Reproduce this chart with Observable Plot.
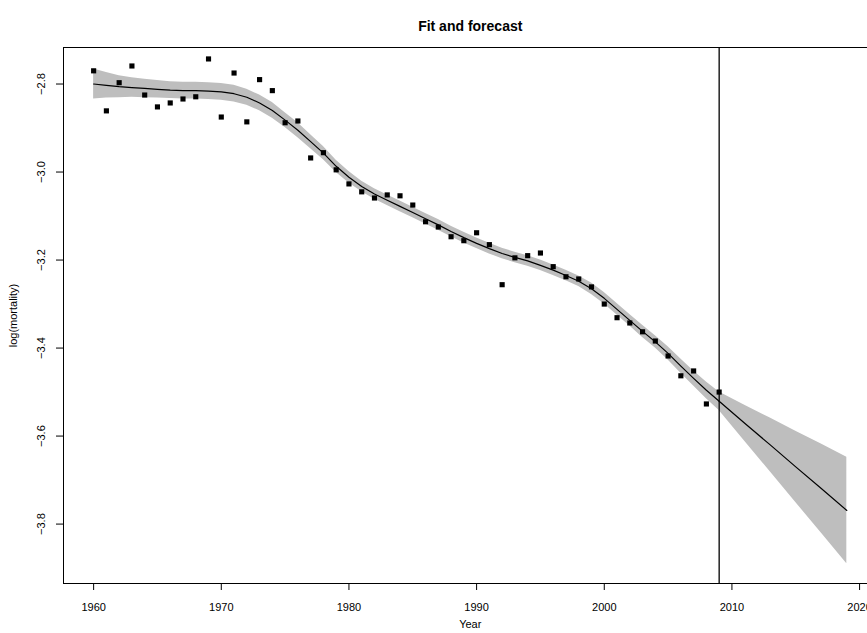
<!DOCTYPE html>
<html><head><meta charset="utf-8">
<script src="https://cdn.jsdelivr.net/npm/d3@7"></script>
<script src="https://cdn.jsdelivr.net/npm/@observablehq/plot@0.6"></script>
<style>html,body{margin:0;padding:0;overflow:hidden;background:#fff}</style>
</head><body><div id="chart"></div>
<script>
const years = [1960,1961,1962,1963,1964,1965,1966,1967,1968,1969,
  1970,1971,1972,1973,1974,1975,1976,1977,1978,1979,
  1980,1981,1982,1983,1984,1985,1986,1987,1988,1989,
  1990,1991,1992,1993,1994,1995,1996,1997,1998,1999,
  2000,2001,2002,2003,2004,2005,2006,2007,2008,2009];
const observed = [-2.770,-2.861,-2.797,-2.759,-2.825,-2.852,-2.843,-2.834,-2.829,-2.743,
  -2.875,-2.775,-2.886,-2.790,-2.815,-2.888,-2.884,-2.968,-2.956,-2.995,
  -3.027,-3.045,-3.059,-3.052,-3.054,-3.075,-3.113,-3.125,-3.147,-3.156,
  -3.138,-3.165,-3.256,-3.195,-3.190,-3.184,-3.215,-3.238,-3.243,-3.261,
  -3.300,-3.331,-3.343,-3.363,-3.384,-3.418,-3.463,-3.452,-3.527,-3.500];
const fitted = [-2.800,-2.803,-2.806,-2.808,-2.810,-2.812,-2.814,-2.815,-2.815,-2.816,
  -2.818,-2.822,-2.830,-2.843,-2.860,-2.882,-2.905,-2.931,-2.957,-2.987,
  -3.012,-3.033,-3.050,-3.064,-3.078,-3.092,-3.106,-3.120,-3.135,-3.149,
  -3.162,-3.174,-3.185,-3.194,-3.202,-3.212,-3.223,-3.235,-3.248,-3.265,
  -3.287,-3.312,-3.337,-3.362,-3.386,-3.412,-3.441,-3.469,-3.496,-3.521];
const fitUpper = [-2.766,-2.774,-2.781,-2.786,-2.789,-2.792,-2.795,-2.796,-2.796,-2.797,
  -2.799,-2.803,-2.812,-2.825,-2.842,-2.865,-2.888,-2.915,-2.942,-2.973,
  -2.999,-3.021,-3.038,-3.052,-3.066,-3.080,-3.094,-3.108,-3.123,-3.137,
  -3.150,-3.162,-3.173,-3.182,-3.190,-3.200,-3.211,-3.223,-3.236,-3.252,
  -3.274,-3.299,-3.324,-3.348,-3.372,-3.397,-3.425,-3.452,-3.477,-3.500];
const fitLower = [-2.834,-2.832,-2.831,-2.830,-2.831,-2.832,-2.833,-2.834,-2.834,-2.835,
  -2.837,-2.841,-2.848,-2.861,-2.878,-2.899,-2.922,-2.947,-2.972,-3.001,
  -3.025,-3.045,-3.062,-3.076,-3.090,-3.104,-3.118,-3.132,-3.147,-3.161,
  -3.174,-3.186,-3.197,-3.206,-3.214,-3.224,-3.235,-3.247,-3.260,-3.278,
  -3.300,-3.325,-3.350,-3.376,-3.400,-3.427,-3.457,-3.486,-3.515,-3.542];
const fcYears = [2009, 2011, 2013, 2015, 2017, 2019];
const fcMean  = [-3.521, -3.571, -3.620, -3.670, -3.719, -3.769];
const fcUpper = [-3.500, -3.530, -3.559, -3.589, -3.618, -3.648];
const fcLower = [-3.542, -3.612, -3.681, -3.751, -3.820, -3.890];
const xTicks = [1960, 1970, 1980, 1990, 2000, 2010, 2020];
const yTicks = [-2.8, -3.0, -3.2, -3.4, -3.6, -3.8];
const xDomain = [1957.64, 2020.62];
const yDomain = [-3.935, -2.717];
const forecastOrigin = [2009];
const titleText = "Fit and forecast";
const xLabel = "Year";
const yLabel = "log(mortality)";

const fitData = years.map((yr, i) => ({year: yr, obs: observed[i], fit: fitted[i], hi: fitUpper[i], lo: fitLower[i]}));
const fcData = fcYears.map((yr, i) => ({year: yr, fit: fcMean[i], hi: fcUpper[i], lo: fcLower[i]}));

const font = "'Liberation Sans', Arial, Helvetica, sans-serif";
const chart = Plot.plot({
  width: 867, height: 633,
  marginLeft: 63, marginRight: 0, marginTop: 47, marginBottom: 50,
  style: {fontFamily: font, color: "black", background: "white", overflow: "hidden"},
  x: {domain: xDomain},
  y: {domain: yDomain},
  marks: [
    Plot.areaY(fitData, {x: "year", y1: "lo", y2: "hi", fill: "#bebebe"}),
    Plot.areaY(fcData, {x: "year", y1: "lo", y2: "hi", fill: "#bebebe"}),
    Plot.line(fitData, {x: "year", y: "fit", stroke: "black", strokeWidth: 1.2}),
    Plot.line(fcData, {x: "year", y: "fit", stroke: "black", strokeWidth: 1.2}),
    Plot.dot(fitData, {x: "year", y: "obs", symbol: "square", r: 2.9, fill: "black", stroke: "none"}),
    Plot.ruleX(forecastOrigin, {stroke: "black", strokeWidth: 1.3}),
    Plot.ruleX([xDomain[0]], {stroke: "black", strokeWidth: 1}),
    Plot.ruleY(yDomain, {stroke: "black", strokeWidth: 1}),
    Plot.axisX({ticks: xTicks, tickSize: 7, tickFormat: () => "", label: null}),
    Plot.axisY({ticks: yTicks, tickSize: 7, tickFormat: () => "", label: null}),
    Plot.text(xTicks, {x: d => d, frameAnchor: "bottom", dy: 27, text: d => String(d), fontSize: 11}),
    Plot.text(yTicks, {y: d => d, frameAnchor: "left", dx: -22, rotate: -90, textAnchor: "middle", text: d => d.toFixed(1).replace("-", "\u2212"), fontSize: 11}),
    Plot.text([titleText], {frameAnchor: "top", dx: 4.75, dy: -26, text: d => d, fontSize: 14, fontWeight: "bold"}),
    Plot.text([xLabel], {frameAnchor: "bottom", dx: 4.75, dy: 44, text: d => d, fontSize: 11}),
    Plot.text([yLabel], {frameAnchor: "left", dx: -50, rotate: -90, textAnchor: "middle", text: d => d, fontSize: 11})
  ]
});
document.getElementById("chart").appendChild(chart);
</script>
</body></html>
